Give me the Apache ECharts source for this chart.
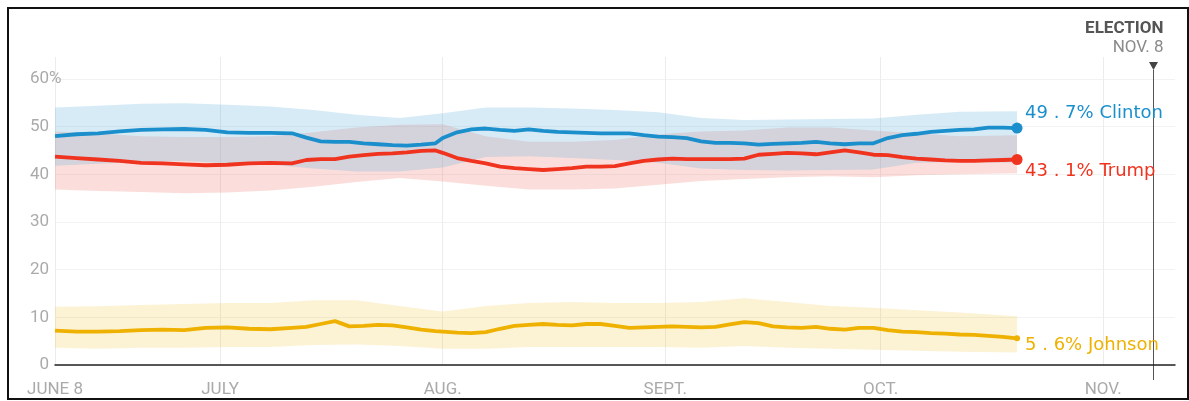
<!DOCTYPE html>
<html><head><meta charset="utf-8">
<script src="https://cdn.jsdelivr.net/npm/echarts@6/dist/echarts.min.js"></script>
<style>
html,body{margin:0;padding:0;background:#fff;}
#c{width:1189px;height:401px;}
#frame{position:absolute;left:7px;top:7px;width:1178px;height:389px;border:2px solid #111;pointer-events:none;}
</style></head>
<body><div id="c"></div><div id="frame"></div>
<script>
// ---- categories: one per day from June 8 to Nov 10, 2016 ----
const startDate = '2016-06-08';
const dayCount = 157;
const electionDate = '2016-11-08';

// ---- x tick labels ----
const tickDates = ['2016-06-08','2016-07-01','2016-08-01','2016-09-01','2016-10-01','2016-11-01'];
const tickLabels = ['JUNE 8','JULY','AUG.','SEPT.','OCT.','NOV.'];

// ---- y tick labels ----
const yTicks = [0,10,20,30,40,50,60];

// ---- sampled days (offset from June 8) for the trend lines ----
const lineDays = [0,3,6,9,12,15,18,21,24,27,30,33,35,37,39,41,43,45,47,49,51,53,54,56,58,60,62,64,66,68,70,72,74,76,78,80,82,84,86,88,90,92,94,96,98,100,102,104,106,108,110,112,114,116,118,120,122,124,126,128,130,132,134];
const clinton = [48.0,48.4,48.6,49.0,49.3,49.4,49.5,49.3,48.8,48.7,48.7,48.6,47.7,46.9,46.8,46.8,46.5,46.3,46.1,46.0,46.2,46.5,47.6,48.8,49.4,49.6,49.3,49.1,49.4,49.1,48.9,48.8,48.7,48.6,48.6,48.6,48.2,47.9,47.8,47.6,46.9,46.6,46.6,46.5,46.2,46.4,46.5,46.6,46.8,46.5,46.3,46.5,46.5,47.6,48.2,48.5,48.9,49.1,49.3,49.4,49.8,49.8,49.7];
const trump = [43.7,43.4,43.1,42.8,42.4,42.3,42.1,41.9,42.0,42.3,42.4,42.3,43.0,43.2,43.2,43.7,44.0,44.3,44.4,44.6,44.9,45.0,44.5,43.4,42.8,42.3,41.6,41.3,41.1,40.9,41.1,41.3,41.6,41.6,41.7,42.3,42.8,43.1,43.3,43.2,43.2,43.2,43.2,43.3,44.1,44.3,44.5,44.4,44.2,44.6,45.0,44.6,44.1,44.0,43.6,43.3,43.1,42.9,42.8,42.8,42.9,43.0,43.1];
const johnson = [7.2,7.0,7.0,7.1,7.3,7.4,7.3,7.8,7.9,7.6,7.5,7.8,8.0,8.6,9.2,8.1,8.2,8.4,8.3,7.9,7.4,7.1,7.0,6.8,6.7,6.9,7.6,8.2,8.4,8.6,8.4,8.3,8.6,8.6,8.2,7.8,7.9,8.0,8.1,8.0,7.9,8.0,8.5,9.0,8.8,8.1,7.9,7.8,8.0,7.6,7.4,7.8,7.8,7.3,7.0,6.9,6.7,6.6,6.4,6.3,6.1,5.9,5.6];

// ---- uncertainty bands (sampled coarser) ----
const bandDays = [0,6,12,18,24,30,36,42,48,54,60,66,72,78,84,90,96,102,108,114,120,126,134];
const clintonHigh = [54.0,54.4,54.8,54.9,54.6,54.2,53.5,52.5,51.8,52.8,54.0,54.0,53.8,53.5,53.0,51.8,51.4,51.5,51.6,51.7,52.5,53.1,53.2];
const clintonLow  = [41.8,42.2,42.6,42.8,42.3,42.0,41.2,40.6,40.6,41.4,43.6,43.8,43.4,43.0,42.4,41.2,40.9,40.8,40.9,41.0,42.4,42.6,42.4];
const trumpHigh   = [49.0,48.6,48.0,47.8,47.8,48.0,48.8,49.8,50.4,50.5,48.0,46.8,46.8,47.2,48.4,49.0,49.2,49.8,49.8,49.2,48.6,48.0,48.2];
const trumpLow    = [36.8,36.5,36.3,36.0,36.2,36.6,37.4,38.4,39.2,38.5,37.6,36.8,36.8,37.0,37.8,38.6,39.0,39.4,39.6,39.4,39.8,40.0,40.2];
const johnsonHigh = [12.2,12.3,12.6,12.8,13.0,13.0,13.6,13.6,12.4,11.2,12.4,13.0,13.2,13.0,13.0,13.2,14.0,13.2,12.4,12.0,11.5,11.0,10.2];
const johnsonLow  = [3.6,3.4,3.6,3.6,3.8,3.8,4.2,4.3,4.0,3.4,3.4,3.8,3.8,3.8,3.8,3.6,4.0,3.6,3.4,3.2,3.0,2.8,2.6];

const names = ['Clinton','Trump','Johnson'];
const colors = ['#1b8fcc','#f0331f','#efb100'];
const bandColors = ['rgba(87,171,219,0.24)','rgba(239,107,91,0.22)','rgba(240,180,0,0.17)'];

// build categories
function fmt(d){const m=d.getUTCMonth()+1, day=d.getUTCDate();return d.getUTCFullYear()+'-'+(m<10?'0':'')+m+'-'+(day<10?'0':'')+day;}
const dates=[];{const s=new Date(startDate+'T00:00:00Z');for(let i=0;i<dayCount;i++){dates.push(fmt(new Date(s.getTime()+i*86400000)));}}
const tickIdx = tickDates.map(t=>dates.indexOf(t));

const chart = echarts.init(document.getElementById('c'));
const FONT = 'Roboto';
const LABELFONT = 'DejaVu Sans';

function lineSeries(i, vals, labelText, off, symSize){
  const data = lineDays.map((d,k)=>{
    const item = {value:[dates[d], vals[k]]};
    if(k===lineDays.length-1){ item.symbol='circle'; item.symbolSize=symSize; }
    return item;
  });
  return {
    type:'line', name:names[i], data, symbol:'none', showSymbol:true, showAllSymbol:true,
    lineStyle:{color:colors[i], width:3.8}, itemStyle:{color:colors[i]},
    z:5, silent:true, animation:false,
    endLabel:{show:true, formatter:labelText, color:colors[i], fontFamily:LABELFONT, fontSize:18, offset:off, distance:6}
  };
}
function bandSeries(i, lo, hi){
  return [
    {type:'line', stack:'b'+i, data:bandDays.map((d,k)=>[dates[d], lo[k]]), symbol:'none', lineStyle:{opacity:0}, z:1, silent:true, animation:false},
    {type:'line', stack:'b'+i, data:bandDays.map((d,k)=>[dates[d], +(hi[k]-lo[k]).toFixed(2)]), symbol:'none', lineStyle:{opacity:0}, areaStyle:{color:bandColors[i], opacity:1}, z:1, silent:true, animation:false}
  ];
}

const yMax = 64.6;
const yMargin = 6;
chart.setOption({
  animation:false,
  grid:{left:55, right:14, top:57, bottom:36},
  xAxis:{
    type:'category', data:dates, boundaryGap:false,
    axisLine:{show:true, lineStyle:{color:'#222', width:1.5}},
    axisTick:{show:false},
    axisLabel:{
      interval:(idx)=>tickIdx.indexOf(idx)>=0,
      formatter:(v,idx)=>{const k=tickDates.indexOf(v);return k>=0?tickLabels[k]:'';},
      color:'#aaaaaa', fontFamily:FONT, fontSize:17, margin:16
    },
    splitLine:{show:true, interval:(idx)=>tickIdx.indexOf(idx)>=0, lineStyle:{color:'#ececec', width:1}}
  },
  yAxis:{
    type:'value', min:0, max:yMax, interval:10,
    axisLine:{show:false}, axisTick:{show:false},
    axisLabel:{
      color:'#aaaaaa', fontFamily:FONT, fontSize:17, margin:yMargin,
      formatter:(v)=> yTicks.indexOf(v)<0 ? '' : String(v)
    },
    splitLine:{show:true, lineStyle:{color:['#f2f2f2','#f2f2f2','#f2f2f2','#f2f2f2','#f2f2f2','#f2f2f2','#f2f2f2','rgba(0,0,0,0)']}}
  },
  series:[
    ...bandSeries(2, johnsonLow, johnsonHigh),
    ...bandSeries(1, trumpLow, trumpHigh),
    ...bandSeries(0, clintonLow, clintonHigh),
    lineSeries(2, johnson, '5 . 6% Johnson', [2,7], 6),
    lineSeries(1, trump, '43 . 1% Trump', [2,12], 11),
    lineSeries(0, clinton, '49 . 7% Clinton', [2,-15], 11)
  ]
});

// election marker and the "%" unit on the top tick, positioned through the axis scales
const eIdx = dates.indexOf(electionDate);
const pTop = chart.convertToPixel({xAxisIndex:0, yAxisIndex:0}, [eIdx, 60]);
const pBot = chart.convertToPixel({xAxisIndex:0, yAxisIndex:0}, [eIdx, 0]);
const p60 = chart.convertToPixel({xAxisIndex:0, yAxisIndex:0}, [0, 60]);
const ex = Math.round(pTop[0]) + 0.5;
chart.setOption({graphic:[
  {type:'text', x:p60[0]-yMargin, y:p60[1], style:{text:'%', textAlign:'left', textVerticalAlign:'middle', fill:'#aaaaaa', font:'17px Roboto'}, silent:true},
  {type:'line', shape:{x1:ex, y1:pTop[1]-9, x2:ex, y2:pBot[1]+15}, style:{stroke:'#555', lineWidth:1}, silent:true},
  {type:'polygon', shape:{points:[[ex-4.5,pTop[1]-17],[ex+4.5,pTop[1]-17],[ex,pTop[1]-9]]}, style:{fill:'#444'}, silent:true},
  {type:'text', x:ex+10, y:pTop[1]-50, style:{text:'ELECTION', textAlign:'right', textVerticalAlign:'middle', fill:'#555', font:'bold 17px Roboto'}, silent:true},
  {type:'text', x:ex+10, y:pTop[1]-31, style:{text:'NOV. 8', textAlign:'right', textVerticalAlign:'middle', fill:'#8a8a8a', font:'17px Roboto'}, silent:true}
]});
</script></body></html>
